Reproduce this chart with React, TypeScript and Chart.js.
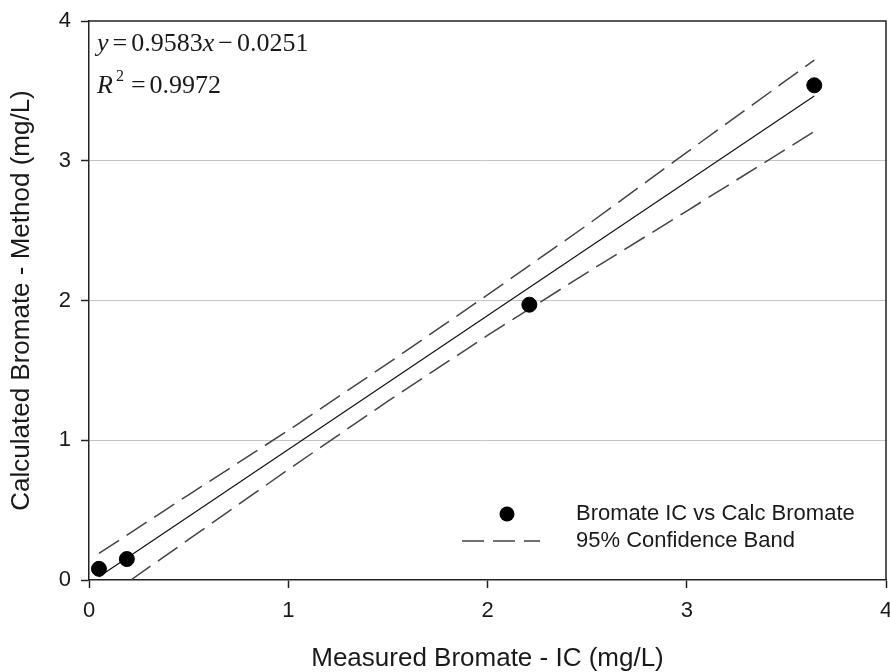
import React, { useEffect, useRef } from "react";
import { Chart, registerables } from "chart.js";

Chart.register(...registerables);

// Data
const measured = [0.05, 0.19, 2.21, 3.64];
const calculated = [0.08, 0.15, 1.97, 3.54];

const fitX = [0.05, 3.64];
const fitY = [0.023, 3.463];

const upperX = [0.05, 0.5, 1.0, 1.5, 2.0, 2.5, 3.0, 3.64];
const upperY = [0.19, 0.61, 1.07, 1.55, 2.04, 2.54, 3.06, 3.72];

const lowerX = [0.21, 0.5, 1.0, 1.5, 2.0, 2.5, 3.0, 3.64];
const lowerY = [0.0, 0.29, 0.79, 1.28, 1.75, 2.2, 2.64, 3.21];

const xTicks = [0, 1, 2, 3, 4];
const yTicks = [0, 1, 2, 3, 4];

const xTitle = "Measured Bromate - IC (mg/L)";
const yTitle = "Calculated Bromate - Method (mg/L)";
const legendLabels = ["Bromate IC vs Calc Bromate", "95% Confidence Band"];
const slopeText = "0.9583";
const interceptText = "0.0251";
const r2Text = "0.9972";

const SANS = 'Arial, "Liberation Sans", sans-serif';
const SERIF = '"Times New Roman", "Liberation Serif", serif';
const TEXT = "#1a1a1a";
const DASH = [24, 9];

const framePlugin = {
  id: "frame",
  afterDraw(chart: any) {
    const { ctx, chartArea } = chart;
    const { left, right, top, bottom } = chartArea;
    ctx.save();
    ctx.strokeStyle = "#222";
    ctx.lineWidth = 1.5;
    ctx.beginPath();
    ctx.moveTo(left, top);
    ctx.lineTo(right, top);
    ctx.lineTo(right, bottom);
    ctx.stroke();

    // equation text: segments of [text, font, gapAfter]
    const drawSeq = (segs: [string, string, number][], x: number, y: number) => {
      let cx = x;
      for (const [t, f, g] of segs) {
        ctx.font = f;
        ctx.fillText(t, cx, y);
        cx += ctx.measureText(t).width + g;
      }
      return cx;
    };
    ctx.fillStyle = TEXT;
    ctx.textBaseline = "alphabetic";
    ctx.textAlign = "left";
    const it = `italic 26px ${SERIF}`;
    const nm = `26px ${SERIF}`;
    drawSeq(
      [
        ["y", it, 4],
        ["=", nm, 4],
        [slopeText, nm, 0],
        ["x", it, 4],
        ["\u2212", nm, 4],
        [interceptText, nm, 0],
      ],
      left + 8,
      top + 30
    );
    let cx = drawSeq([["R", it, 3]], left + 8, top + 72);
    ctx.font = `16px ${SERIF}`;
    ctx.fillText("2", cx, top + 60);
    cx += ctx.measureText("2").width + 7;
    drawSeq([["=", nm, 4], [r2Text, nm, 0]], cx, top + 72);

    // legend
    const lx = left + 418;
    const ly1 = bottom - 66;
    const ly2 = bottom - 39;
    ctx.fillStyle = "#000";
    ctx.beginPath();
    ctx.arc(lx, ly1, 7.5, 0, Math.PI * 2);
    ctx.fill();
    ctx.strokeStyle = "#444";
    ctx.lineWidth = 1.5;
    ctx.setLineDash([22, 9]);
    ctx.beginPath();
    ctx.moveTo(lx - 45, ly2);
    ctx.lineTo(lx + 33, ly2);
    ctx.stroke();
    ctx.setLineDash([]);
    ctx.fillStyle = TEXT;
    ctx.font = `22px ${SANS}`;
    ctx.textBaseline = "middle";
    ctx.fillText(legendLabels[0], lx + 69, ly1);
    ctx.fillText(legendLabels[1], lx + 69, ly2);
    ctx.restore();
  },
};

export default function App() {
  const ref = useRef<HTMLCanvasElement>(null);
  useEffect(() => {
    document.body.style.margin = "0";
    const canvas = ref.current!;
    const chart = new Chart(canvas, {
      type: "scatter",
      data: {
        datasets: [
          {
            label: legendLabels[0],
            data: measured.map((x, i) => ({ x, y: calculated[i] })),
            backgroundColor: "#000",
            borderColor: "#000",
            pointRadius: 7.5,
            pointHoverRadius: 7.5,
            order: 0,
          },
          {
            type: "line",
            label: "fit",
            data: fitX.map((x, i) => ({ x, y: fitY[i] })),
            borderColor: "#111",
            borderWidth: 1.2,
            pointRadius: 0,
            showLine: true,
            fill: false,
            order: 1,
          },
          {
            type: "line",
            label: legendLabels[1],
            data: upperX.map((x, i) => ({ x, y: upperY[i] })),
            borderColor: "#444",
            borderWidth: 1.5,
            borderDash: DASH,
            pointRadius: 0,
            showLine: true,
            fill: false,
            order: 2,
          },
          {
            type: "line",
            label: "lower",
            data: lowerX.map((x, i) => ({ x, y: lowerY[i] })),
            borderColor: "#444",
            borderWidth: 1.5,
            borderDash: DASH,
            pointRadius: 0,
            showLine: true,
            fill: false,
            order: 2,
          },
        ],
      } as any,
      options: {
        animation: false,
        responsive: false,
        maintainAspectRatio: false,
        layout: {
          autoPadding: false,
          padding: { top: 21, right: 4, left: 0, bottom: 0 },
        },
        plugins: {
          legend: { display: false },
          tooltip: { enabled: false },
        },
        scales: {
          x: {
            type: "linear",
            min: 0,
            max: 4,
            afterFit: (s: any) => {
              s.height = 92;
              s.paddingRight = 0;
              s.paddingLeft = 0;
            },
            afterBuildTicks: (s: any) => {
              s.ticks = xTicks.map((v) => ({ value: v }));
            },
            ticks: {
              color: TEXT,
              font: { family: SANS, size: 22 },
              padding: 10,
            },
            grid: {
              drawOnChartArea: false,
              drawTicks: true,
              tickLength: 8,
              tickColor: "#222",
              tickWidth: 1.5,
            },
            border: { display: true, color: "#222", width: 1.5 },
            title: {
              display: true,
              text: xTitle,
              color: TEXT,
              font: { family: SANS, size: 26, lineHeight: 1 },
              padding: { top: 0, bottom: 0 },
            },
          },
          y: {
            type: "linear",
            min: 0,
            max: 4,
            afterFit: (s: any) => {
              s.width = 89;
              s.paddingTop = 0;
              s.paddingBottom = 0;
            },
            afterBuildTicks: (s: any) => {
              s.ticks = yTicks.map((v) => ({ value: v }));
            },
            ticks: {
              color: TEXT,
              font: { family: SANS, size: 22 },
              padding: 10,
            },
            grid: {
              color: (c: any) =>
                c.tick && (c.tick.value === 0 || c.tick.value === 4)
                  ? "rgba(0,0,0,0)"
                  : "#c4c4c4",
              lineWidth: 1,
              drawTicks: true,
              tickLength: 8,
              tickColor: "#222",
              tickWidth: 1.5,
            },
            border: { display: true, color: "#222", width: 1.5 },
            title: {
              display: true,
              text: yTitle,
              color: TEXT,
              font: { family: SANS, size: 26, lineHeight: 1 },
              padding: { top: 9, bottom: 0 },
            },
          },
        },
      },
      plugins: [framePlugin],
    });
    return () => chart.destroy();
  }, []);
  return (
    <div style={{ width: 890, height: 672, background: "#fff" }}>
      <canvas ref={ref} width={890} height={672} style={{ display: "block" }} />
    </div>
  );
}
